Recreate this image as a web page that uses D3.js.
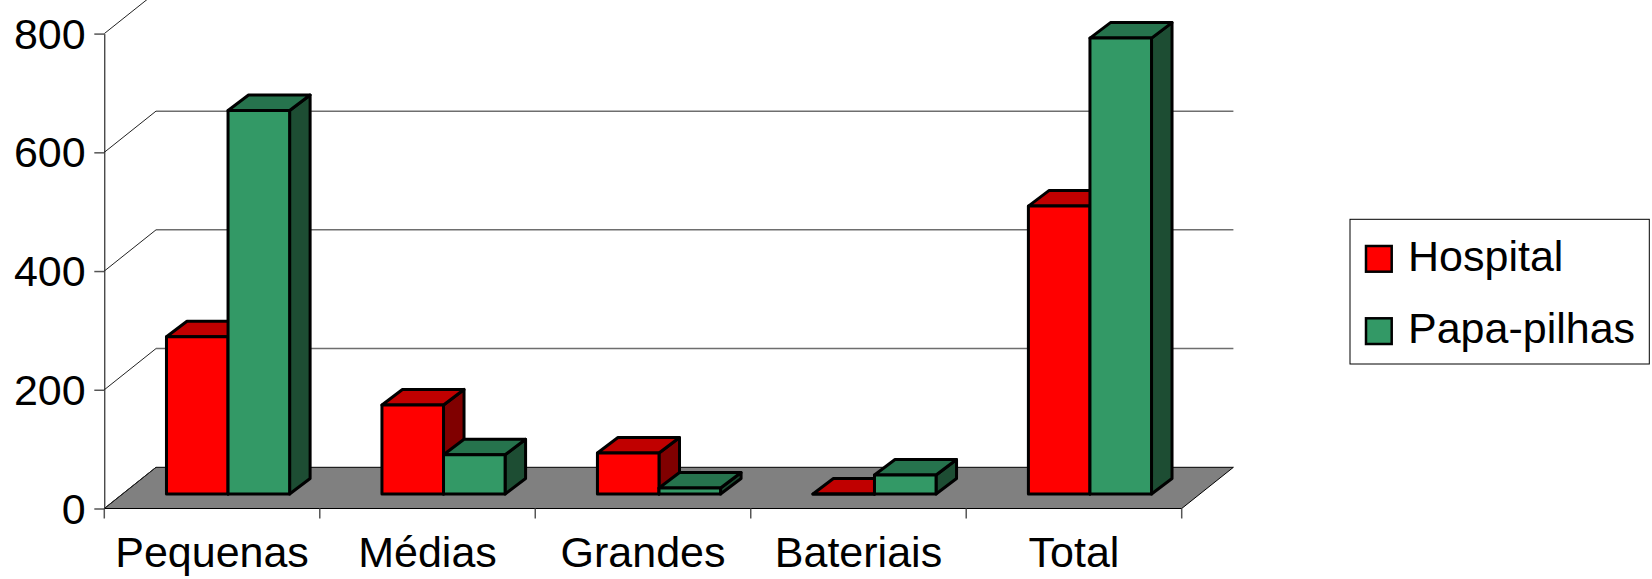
<!DOCTYPE html>
<html><head><meta charset="utf-8">
<script src="https://cdn.jsdelivr.net/npm/d3@7"></script>
<style>body{margin:0;background:#fff}svg{display:block}text{font-family:"Liberation Sans",Arial,sans-serif}</style>
</head><body><div id="chart"></div>
<script>
const categories = ["Pequenas", "Médias", "Grandes", "Bateriais", "Total"];
const seriesNames = ["Hospital", "Papa-pilhas"];
const hospital = [265, 150, 69, 0, 485];
const papaPilhas = [646, 66, 10, 32, 768];
const yTicks = [0, 200, 400, 600, 800];
const seriesColors = {
  "Hospital": {front: "#FF0000", top: "#C00000", side: "#800000"},
  "Papa-pilhas": {front: "#339966", top: "#26734D", side: "#1D4D33"}
};

const W = 1652, H = 579;
const svg = d3.select("#chart").append("svg").attr("width", W).attr("height", H);

const x0 = 104.3, x1 = 1181.7, yBottom = 508.5, yTop = 33.6;
const depthX = 51.7, depthY = 41.2;
const y = d3.scaleLinear().domain([0, 800]).range([yBottom, yTop]);
const x = d3.scaleBand().domain(categories).range([x0, x1]).paddingInner(0).paddingOuter(0);
const bw = x.bandwidth() / 3.5;
const xs = d3.scaleBand().domain(seriesNames).range([0.75 * bw, 2.75 * bw]).padding(0);
const barDX = 16, barDY = 14.5, barDepthX = 20.5, barDepthY = 15.5;
const yb = v => y(v) - barDY;

// floor
svg.append("polygon")
  .attr("points", [[x0, yBottom], [x1, yBottom], [x1 + depthX, yBottom - depthY], [x0 + depthX, yBottom - depthY]].map(p => p.join(",")).join(" "))
  .attr("fill", "#808080").attr("stroke", "#000").attr("stroke-width", 1);

// back wall gridlines
svg.append("g").selectAll("line").data(yTicks.filter(t => t > 0)).join("line")
  .attr("x1", x0 + depthX).attr("x2", x1 + depthX)
  .attr("y1", d => y(d) - depthY).attr("y2", d => y(d) - depthY)
  .attr("stroke", "#6e6e6e").attr("stroke-width", 1.5);

// side wall diagonals
svg.append("g").selectAll("line").data(yTicks).join("line")
  .attr("x1", x0).attr("y1", d => y(d))
  .attr("x2", x0 + depthX).attr("y2", d => y(d) - depthY)
  .attr("stroke", "#222").attr("stroke-width", 1);

// y axis
const yAxis = svg.append("g").attr("transform", `translate(${x0},0)`)
  .call(d3.axisLeft(y).tickValues(yTicks).tickSize(10).tickSizeOuter(0).tickPadding(8.6));
yAxis.select(".domain").attr("stroke", "#000").attr("stroke-width", 1);
yAxis.selectAll(".tick line").attr("stroke", "#555").attr("stroke-width", 1.5);
yAxis.selectAll(".tick text").attr("font-size", 43).attr("fill", "#000")
  .attr("font-family", '"Liberation Sans", Arial, sans-serif').attr("dy", "0.34em");

// x axis
svg.append("line").attr("x1", x0).attr("x2", x1).attr("y1", yBottom).attr("y2", yBottom)
  .attr("stroke", "#000").attr("stroke-width", 1);
svg.append("g").selectAll("line").data(categories.map(c => x(c)).concat([x1])).join("line")
  .attr("x1", d => d).attr("x2", d => d).attr("y1", yBottom).attr("y2", yBottom + 10)
  .attr("stroke", "#555").attr("stroke-width", 1.5);
svg.append("g").selectAll("text").data(categories).join("text")
  .attr("x", d => x(d) + x.bandwidth() / 2).attr("y", 566.7)
  .attr("text-anchor", "middle").attr("font-size", 43).attr("fill", "#000").text(d => d);

// bars
const bars = [];
categories.forEach((c, i) => {
  bars.push({cat: c, s: "Hospital", v: hospital[i]});
  bars.push({cat: c, s: "Papa-pilhas", v: papaPilhas[i]});
});
const pts = a => a.map(p => p.join(",")).join(" ");
const gBars = svg.append("g").attr("stroke", "#000").attr("stroke-width", 3).attr("stroke-linejoin", "round");
bars.forEach(b => {
  const xl = x(b.cat) + xs(b.s) + barDX;
  const xr = xl + xs.bandwidth();
  const yt = yb(b.v), y0 = yb(0);
  const col = seriesColors[b.s];
  const g = gBars.append("g");
  g.append("polygon").attr("fill", col.side)
    .attr("points", pts([[xr, yt], [xr + barDepthX, yt - barDepthY], [xr + barDepthX, y0 - barDepthY], [xr, y0]]));
  g.append("polygon").attr("fill", col.top)
    .attr("points", pts([[xl, yt], [xl + barDepthX, yt - barDepthY], [xr + barDepthX, yt - barDepthY], [xr, yt]]));
  g.append("polygon").attr("fill", col.front)
    .attr("points", pts([[xl, yt], [xr, yt], [xr, y0], [xl, y0]]));
});

// legend
const lg = svg.append("g");
lg.append("rect").attr("x", 1350).attr("y", 219.3).attr("width", 299.3).attr("height", 144.7)
  .attr("fill", "#fff").attr("stroke", "#000").attr("stroke-width", 1);
const legendY = [246, 318.3];
seriesNames.forEach((s, i) => {
  lg.append("rect").attr("x", 1366).attr("y", legendY[i]).attr("width", 25.7).attr("height", 25.7)
    .attr("fill", seriesColors[s].front).attr("stroke", "#000").attr("stroke-width", 2.5);
  lg.append("text").attr("x", 1408).attr("y", legendY[i] + 24.5)
    .attr("font-size", 43).attr("fill", "#000").text(s);
});
</script>
</body></html>
